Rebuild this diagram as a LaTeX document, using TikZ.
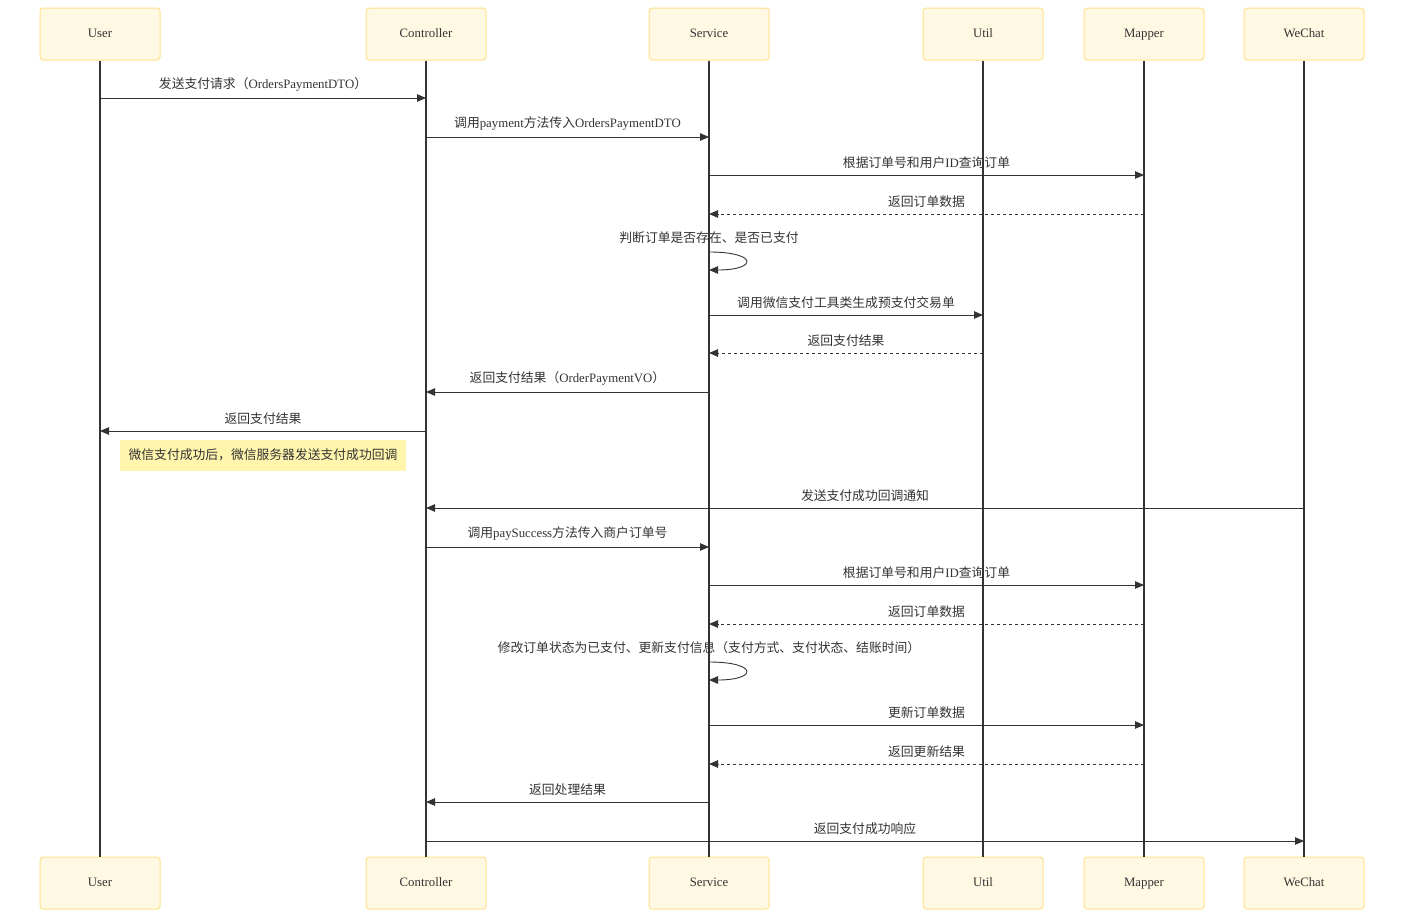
\documentclass[tikz,border=0pt]{standalone}
\usepackage{fontspec}
\setmainfont{Liberation Serif}
\newfontfamily\cjk{Noto Sans CJK SC}
\newcommand\zh[1]{{\cjk #1}}
\usetikzlibrary{arrows.meta}
\definecolor{actorfill}{HTML}{FFF8E3}
\definecolor{actorline}{HTML}{FFE28C}
\definecolor{notefill}{HTML}{FFF5AD}
\definecolor{ink}{HTML}{333333}

\begin{document}
\begin{tikzpicture}[x=1pt,y=-1pt,
  font=\fontsize{12.8}{15}\selectfont, text=ink,
  actor/.style={draw=actorline,fill=actorfill,line width=1pt,rounded corners=3pt,
    minimum width=120pt,minimum height=52pt,text height=1.48ex,text depth=0pt},
  life/.style={draw=ink,line width=1.4pt},
  arr/.style={draw=ink,line width=0.9pt,-{Triangle[length=9pt,width=7.5pt]}},
  msgs/.style={every edge/.style=arr},
  lbl/.style={above=5pt,inner sep=1pt},
  reply/.style={dash pattern=on 3pt off 3pt},
  note/.style={fill=notefill,minimum width=286pt,minimum height=31pt}]
  \useasboundingbox (0,0) rectangle (1406,918);

  % participants and lifelines
  \foreach \n/\x/\t in {user/100/User, ctl/426/Controller, svc/709/Service,
                        util/983/Util, map/1144/Mapper, wx/1304/WeChat} {
    \node[actor] (\n-t) at (\x,34) {\t};
    \node[actor] (\n-b) at (\x,883) {\t};
    \draw[life] (\n-t) -- (\n-b);
  }

  % payment request
  \path[msgs]
    (user-t |- 0,98) edge node[lbl] {\zh{发送支付请求（}OrdersPaymentDTO\zh{）}} (ctl-t |- 0,98)
    (ctl-t |- 0,137) edge node[lbl] {\zh{调用}payment\zh{方法传入}OrdersPaymentDTO} (svc-t |- 0,137)
    (svc-t |- 0,175) edge node[lbl] {\zh{根据订单号和用户}ID\zh{查询订单}} (map-t |- 0,175)
    (map-t |- 0,214) edge[reply] node[lbl] {\zh{返回订单数据}} (svc-t |- 0,214);
  \node (chk) at (svc-t |- 0,238) {\zh{判断订单是否存在、是否已支付}};
  \draw[arr] (svc-t |- 0,252) .. controls +(49,0) and +(49,0) .. (svc-t |- 0,270);
  \path[msgs]
    (svc-t |- 0,315) edge node[lbl] {\zh{调用微信支付工具类生成预支付交易单}} (util-t |- 0,315)
    (util-t |- 0,353) edge[reply] node[lbl] {\zh{返回支付结果}} (svc-t |- 0,353)
    (svc-t |- 0,392) edge node[lbl] {\zh{返回支付结果（}OrderPaymentVO\zh{）}} (ctl-t |- 0,392)
    (ctl-t |- 0,431) edge node[lbl] {\zh{返回支付结果}} (user-t |- 0,431);

  \node[note] (note) at (263,455) {\zh{微信支付成功后，微信服务器发送支付成功回调}};

  % payment callback
  \path[msgs]
    (wx-t |- 0,508) edge node[lbl] {\zh{发送支付成功回调通知}} (ctl-t |- 0,508)
    (ctl-t |- 0,547) edge node[lbl] {\zh{调用}paySuccess\zh{方法传入商户订单号}} (svc-t |- 0,547)
    (svc-t |- 0,585) edge node[lbl] {\zh{根据订单号和用户}ID\zh{查询订单}} (map-t |- 0,585)
    (map-t |- 0,624) edge[reply] node[lbl] {\zh{返回订单数据}} (svc-t |- 0,624);
  \node (upd) at (svc-t |- 0,648) {\zh{修改订单状态为已支付、更新支付信息（支付方式、支付状态、结账时间）}};
  \draw[arr] (svc-t |- 0,662) .. controls +(49,0) and +(49,0) .. (svc-t |- 0,680);
  \path[msgs]
    (svc-t |- 0,725) edge node[lbl] {\zh{更新订单数据}} (map-t |- 0,725)
    (map-t |- 0,764) edge[reply] node[lbl] {\zh{返回更新结果}} (svc-t |- 0,764)
    (svc-t |- 0,802) edge node[lbl] {\zh{返回处理结果}} (ctl-t |- 0,802)
    (ctl-t |- 0,841) edge node[lbl] {\zh{返回支付成功响应}} (wx-t |- 0,841);
\end{tikzpicture}
\end{document}
